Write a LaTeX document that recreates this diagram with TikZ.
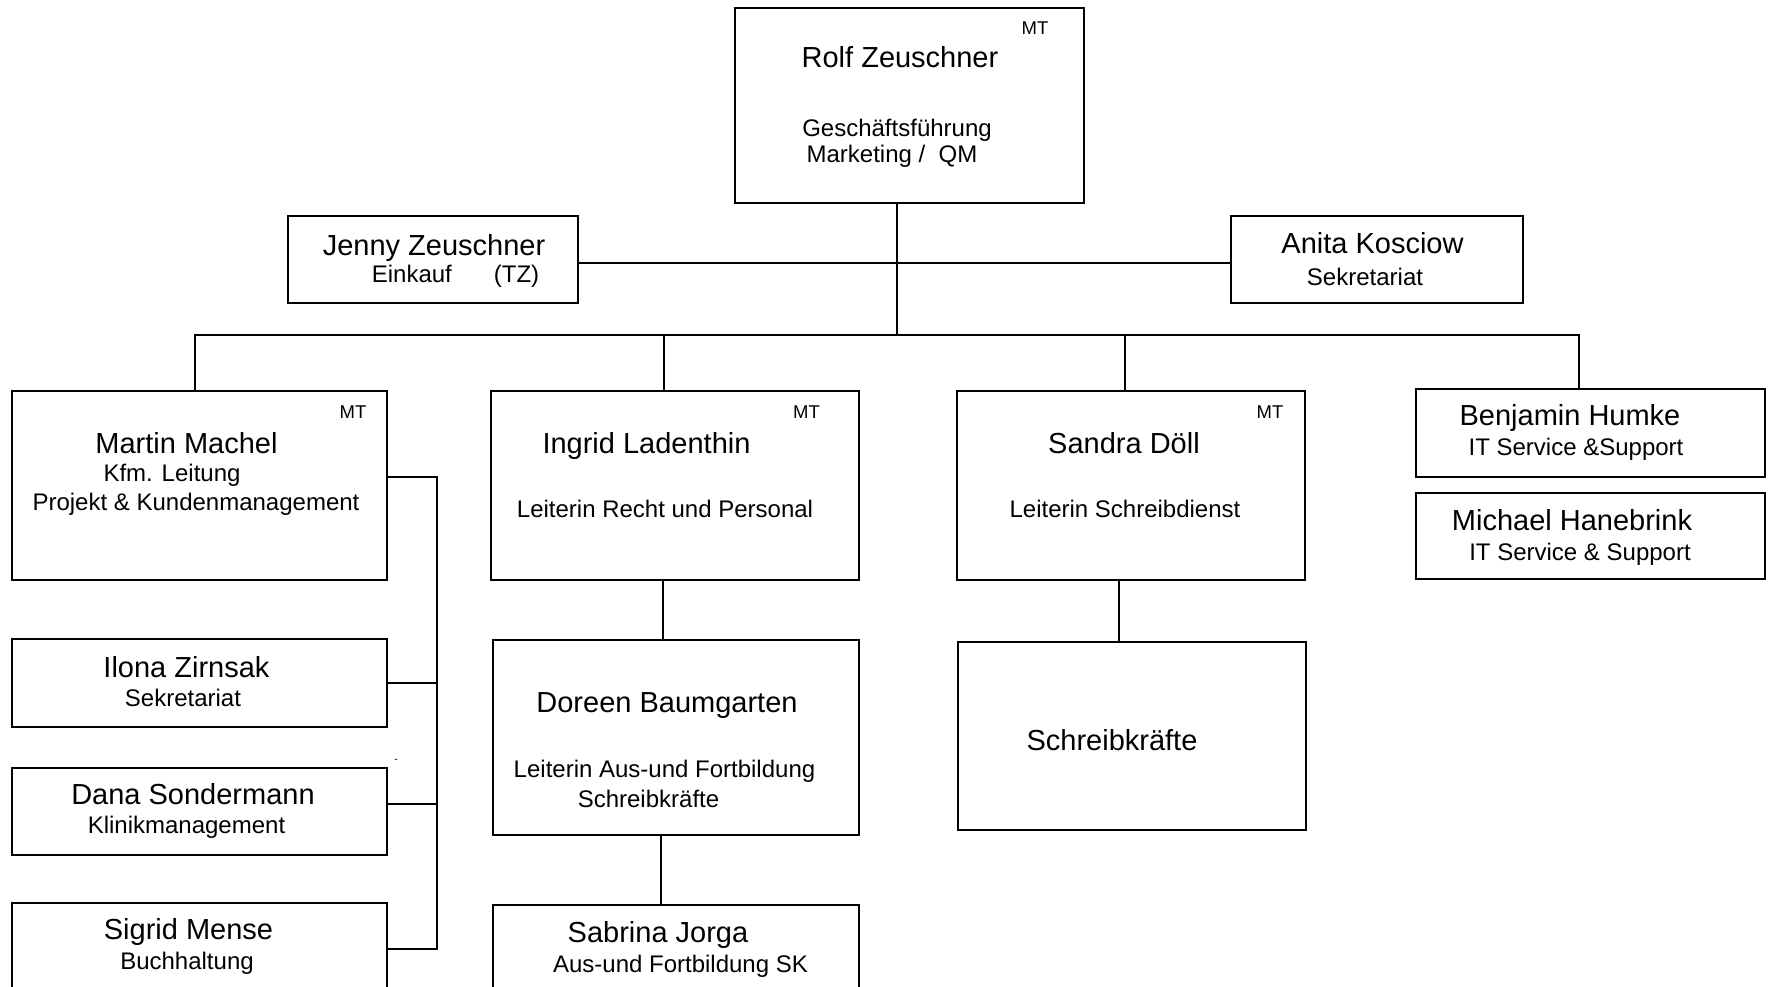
\documentclass[tikz,border=0pt]{standalone}
\usepackage{fontspec}
\setmainfont{Liberation Sans}
\usetikzlibrary{positioning, calc}

\begin{document}
\begin{tikzpicture}[
  x=1pt, y=-1pt,
  unit/.style={draw=black, line width=1.8pt, inner sep=0pt, anchor=north west, fill=white},
  pname/.style={anchor=base, inner sep=0pt, font=\fontsize{29}{34}\selectfont},
  prole/.style={anchor=base, inner sep=0pt, font=\fontsize{24}{29}\selectfont},
  mtag/.style={anchor=base, inner sep=0pt, font=\fontsize{18.5}{22}\selectfont},
  link/.style={line width=1.6pt, draw=black}
]
\useasboundingbox (0,0) rectangle (1770,987);

% boxes
\node[unit, minimum width=349pt, minimum height=195pt] (rolf) at (734,7) {};
\node[unit, minimum width=290pt, minimum height=87pt] (jenny) at (287,215) {};
\node[unit, minimum width=292pt, minimum height=87pt] (anita) at (1230,215) {};

\node[unit, minimum width=375pt, minimum height=189pt] (martin) at (11,390) {};
\node[unit, minimum width=368pt, minimum height=189pt] (ingrid) at (490,390) {};
\node[unit, minimum width=348pt, minimum height=189pt] (sandra) at (956,390) {};
\node[unit, minimum width=349pt, minimum height=88pt] (benjamin) at (1415,388) {};
\node[unit, minimum width=349pt, minimum height=86pt] (michael) at (1415,492) {};

\node[unit, minimum width=375pt, minimum height=88pt] (ilona) at (11,638) {};
\node[unit, minimum width=375pt, minimum height=87pt] (dana) at (11,767) {};
\node[unit, minimum width=375pt, minimum height=100pt] (sigrid) at (11,902) {};

\node[unit, minimum width=366pt, minimum height=195pt] (doreen) at (492,639) {};
\node[unit, minimum width=366pt, minimum height=100pt] (sabrina) at (492,904) {};
\node[unit, minimum width=348pt, minimum height=188pt] (schreib) at (957,641) {};

% texts
\node[mtag] (rolfmt) at (1035,35) {MT};
\node[pname] (rolfname) at (900,68) {Rolf Zeuschner};
\node[prole] (rolfrole) at (897,137) {Geschäftsführung};
\node[prole] (rolfrole2) at (892,163) {Marketing /\ \ QM};

\node[pname] (jennyname) at (434,255) {Jenny Zeuschner};
\node[prole] (jennyrole) at (455.5,283) {Einkauf\hspace{42pt}(TZ)};

\node[pname] (anitaname) at (1372.5,254) {Anita Kosciow};
\node[prole] (anitarole) at (1365,285) {Sekretariat};

\node[mtag] (martinmt) at (353,418) {MT};
\node[pname] (martinname) at (186.5,453) {Martin Machel};
\node[prole] (martinrole) at (172,481) {Kfm. Leitung};
\node[prole] (martinrole2) at (196,510) {Projekt \& Kundenmanagement};

\node[mtag] (ingridmt) at (806.5,418) {MT};
\node[pname] (ingridname) at (646.5,453) {Ingrid Ladenthin};
\node[prole] (ingridrole) at (665,517) {Leiterin Recht und Personal};

\node[mtag] (sandramt) at (1270,418) {MT};
\node[pname] (sandraname) at (1124,453) {Sandra Döll};
\node[prole] (sandrarole) at (1125,517) {Leiterin Schreibdienst};

\node[pname] (benjaminname) at (1570,425) {Benjamin Humke};
\node[prole] (benjaminrole) at (1576,455) {IT Service \&Support};
\node[pname] (michaelname) at (1572,530) {Michael Hanebrink};
\node[prole] (michaelrole) at (1580,560) {IT Service \& Support};

\node[pname] (ilonaname) at (186.5,677) {Ilona Zirnsak};
\node[prole] (ilonarole) at (183,706) {Sekretariat};
\node[pname] (dananame) at (193,804) {Dana Sondermann};
\node[prole] (danarole) at (186.5,833) {Klinikmanagement};
\node[pname] (sigridname) at (188.5,939) {Sigrid Mense};
\node[prole] (sigridrole) at (187,969) {Buchhaltung};
\node[inner sep=0pt, font=\fontsize{10}{12}\selectfont] (stray) at (396,761) {-};

\node[pname] (doreenname) at (667,712) {Doreen Baumgarten};
\node[prole] (doreenrole) at (664.5,777) {Leiterin Aus-und Fortbildung};
\node[prole] (doreenrole2) at (648.5,807) {Schreibkräfte};
\node[pname] (sabrinaname) at (658,942) {Sabrina Jorga};
\node[prole] (sabrinarole) at (680.5,972) {Aus-und Fortbildung SK};

\node[pname] (schreibname) at (1112,750) {Schreibkräfte};

% connectors
\coordinate (hub) at (897,335);
\coordinate (spinetop) at (437,476);
\coordinate (spinebot) at (437,948);

\draw[link] (rolf.south -| hub) -- (hub);
\draw[link] ([yshift=-3.5pt]jenny.east) -- ([yshift=-3.5pt]anita.west);

\draw[link] ([xshift=-4.5pt]martin.north) |- (hub);
\draw[link] ([xshift=-11pt]ingrid.north) |- (hub);
\draw[link] ([xshift=-6pt]sandra.north) |- (hub);
\draw[link] ([xshift=-11.5pt]benjamin.north) |- (hub);

\draw[link] ([yshift=8.5pt]martin.east) -| (spinebot);
\draw[link] (ilona.east) -| (spinebot);
\draw[link] ([yshift=7.5pt]dana.east) -| (spinebot);
\draw[link] ([yshift=4pt]sigrid.east) -| (spinetop);

\draw[link] ([xshift=-12pt]ingrid.south) -- ([xshift=-12pt]ingrid.south |- doreen.north);
\draw[link] ([xshift=-15pt]doreen.south) -- ([xshift=-15pt]doreen.south |- sabrina.north);
\draw[link] ([xshift=-12pt]sandra.south) -- ([xshift=-12pt]sandra.south |- schreib.north);

\end{tikzpicture}
\end{document}
